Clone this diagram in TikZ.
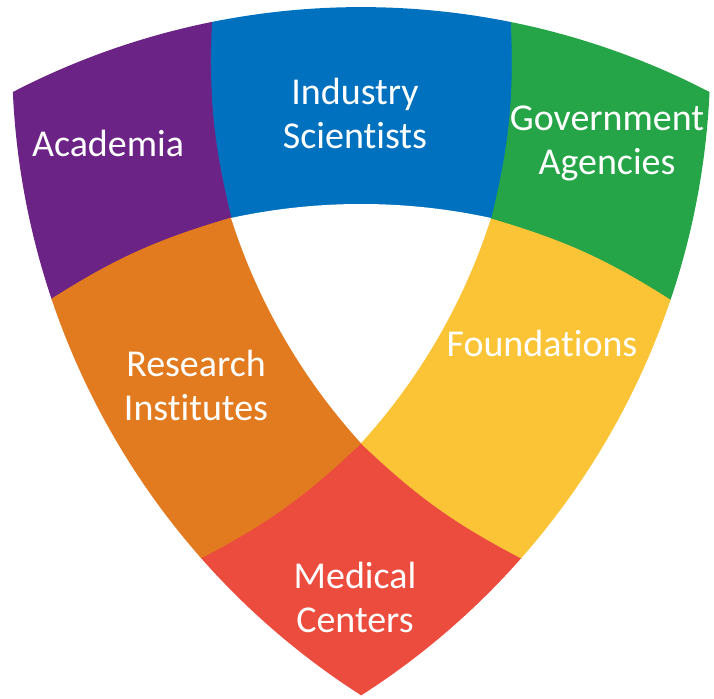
\documentclass[tikz,border=0pt]{standalone}
\usepackage{fontspec}
\setmainfont{Carlito}[Ligatures={NoCommon,NoContextual}]
\usetikzlibrary{positioning}
\definecolor{acadpurple}{HTML}{6B2385}
\definecolor{indblue}{HTML}{0071BF}
\definecolor{govgreen}{HTML}{25A547}
\definecolor{resorange}{HTML}{E27B1F}
\definecolor{foundyellow}{HTML}{FBC437}
\definecolor{medred}{HTML}{EC4C3D}
\tikzset{
  seg/.style={line width=.6pt,line join=round},
  lbl/.style={text=white,font=\fontsize{32.4}{37.5}\selectfont,align=center,inner sep=0pt},
}
\begin{document}
\begin{tikzpicture}[x=0.03cm,y=0.03cm]
  \useasboundingbox (-361,-406) rectangle (353,293);
  % ring of six segments, clipped to the outer shield
  \begin{scope}
    \clip (150:402) arc[start angle=117.4,end angle=62.6,radius=757]
          arc[start angle=357.4,end angle=302.6,radius=757]
          arc[start angle=237.4,end angle=182.6,radius=757] -- cycle;
    \foreach \r/\cornercol/\sidecol in {0/medred/foundyellow,120/govgreen/indblue,240/acadpurple/resorange}{
      \begin{scope}[rotate=\r]
        \coordinate (bi) at (0,-150);
        \coordinate (ni) at (129.9,75);
        \coordinate (lp) at (-162,-266);
        \coordinate (lpx) at (-183,-300);
        \coordinate (rp) at (162,-266);
        \coordinate (rpx) at (183,-300);
        \coordinate (np) at (311.4,-7.3);
        \coordinate (npx) at (351,-8);
        % corner piece
        \fill[seg,\cornercol,draw=\cornercol] (bi) to[bend left=8] (lp) -- (lpx) -- (-300,-500)
          -- (0,-800) -- (300,-500) -- (rpx) -- (rp) to[bend left=8] (bi) -- cycle;
        % side piece
        \fill[seg,\sidecol,draw=\sidecol] (0,0) -- (bi) to[bend right=8] (rp) -- (rpx) -- (300,-500)
          -- (650,-375) -- (578,-14) -- (npx) -- (np) to[bend right=8] (ni) -- cycle;
      \end{scope}
    }
    % white hole in the middle
    \fill[white] (150:150) arc[start angle=102.3,end angle=77.7,radius=610]
          arc[start angle=342.3,end angle=317.7,radius=610]
          arc[start angle=222.3,end angle=197.7,radius=610] -- cycle;
  \end{scope}
  % labels
  \node[lbl] (acad) at (-253,150) {Academia};
  \node[lbl] (ind) at (-6,180) {Industry\\Scientists};
  \node[lbl] (gov) at (246,150) {Government\\Agencies};
  \node[lbl] (found) at (181,-50) {Foundations};
  \node[lbl] (res) at (-165,-92) {Research\\Institutes};
  \node[lbl] (med) at (-6,-304) {Medical\\Centers};
\end{tikzpicture}
\end{document}
